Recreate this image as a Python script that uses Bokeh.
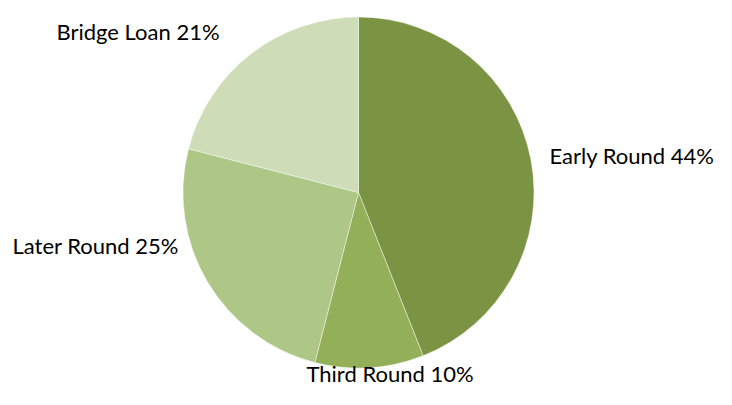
import math
from bokeh.plotting import figure
from bokeh.models import Range1d, ColumnDataSource
from bokeh.core.properties import value
from bokeh.embed import file_html
from bokeh.resources import INLINE

# ---- data ----
categories = ["Early Round", "Third Round", "Later Round", "Bridge Loan"]
shares = [44, 10, 25, 21]
colors = ["#7A9444", "#93B058", "#AEC686", "#CFDCB8"]

# ---- layout (figure pixel units, y measured from top) ----
W, H = 716, 389
cx, cy, r = 358, H - 192, 175.5
label_x = [549, 306, 12, 56]
label_mid = [155, 373, 245, 31]   # text vertical centre, px from top

total = float(sum(shares))
starts, ends = [], []
acc = 0.0
for s in shares:
    a0 = math.pi / 2 - 2 * math.pi * (acc + s) / total
    a1 = math.pi / 2 - 2 * math.pi * acc / total
    starts.append(a0)
    ends.append(a1)
    acc += s

src = ColumnDataSource(dict(
    cat=categories, share=shares, color=colors,
    start=starts, end=ends,
    lx=label_x, ly=[H - b for b in label_mid],
    label=[f"{c} {s}%" for c, s in zip(categories, shares)],
))

p = figure(width=W, height=H, output_backend="svg", toolbar_location=None,
           x_range=Range1d(0, W), y_range=Range1d(0, H),
           min_border=0, outline_line_color=None)
p.xaxis.visible = False
p.yaxis.visible = False
p.grid.visible = False
p.background_fill_color = "white"
p.border_fill_color = "white"

p.wedge(x=cx, y=cy, radius=r, start_angle="start", end_angle="end",
        direction="anticlock", fill_color="color", line_color="white",
        line_width=0.6, line_alpha=0.7, source=src)

p.text(x="lx", y="ly", text="label", source=src,
       text_font=value("Lato"), text_font_size="22px",
       text_color="#000000", text_baseline="middle", text_align="left")

open("out.html", "w").write(file_html(p, INLINE))
